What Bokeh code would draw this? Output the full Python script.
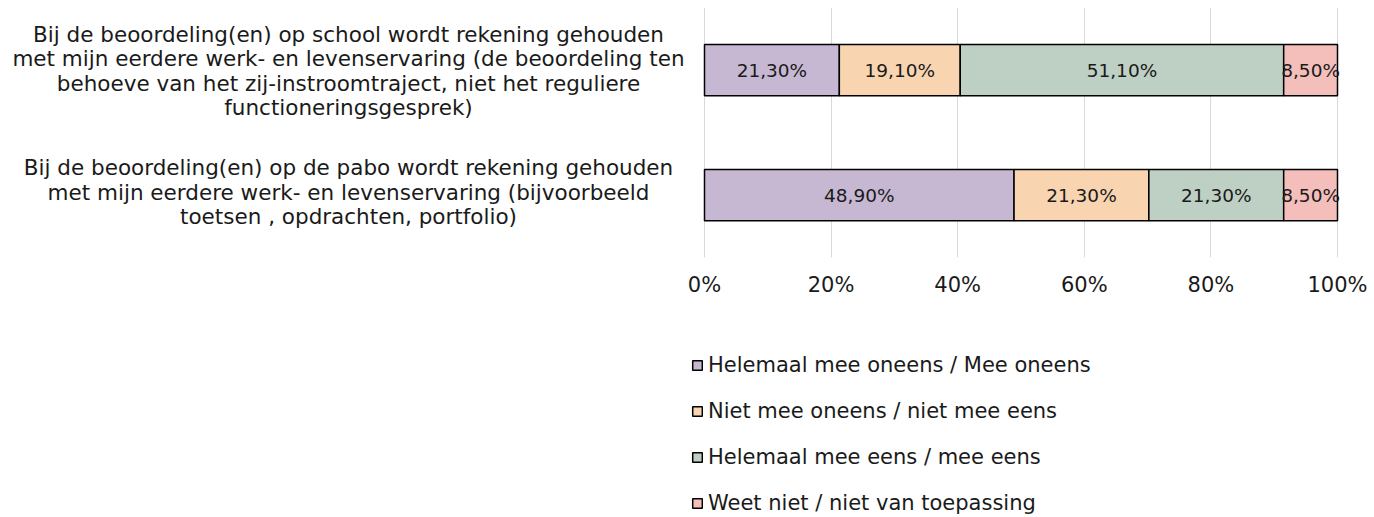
from bokeh.plotting import figure
from bokeh.layouts import column
from bokeh.models import ColumnDataSource, Range1d, Legend, LegendItem, FixedTicker, CustomJSTickFormatter
from bokeh.embed import file_html
from bokeh.resources import INLINE
from bokeh.core.properties import value

categories = [
    "Bij de beoordeling(en) op de pabo wordt rekening gehouden\nmet mijn eerdere werk- en levenservaring (bijvoorbeeld\ntoetsen , opdrachten, portfolio)",
    "Bij de beoordeling(en) op school wordt rekening gehouden\nmet mijn eerdere werk- en levenservaring (de beoordeling ten\nbehoeve van het zij-instroomtraject, niet het reguliere\nfunctioneringsgesprek)",
]
series_names = [
    "Helemaal mee oneens / Mee oneens",
    "Niet mee oneens / niet mee eens",
    "Helemaal mee eens / mee eens",
    "Weet niet / niet van toepassing",
]
oneens = [48.9, 21.3]
neutraal = [21.3, 19.1]
eens = [21.3, 51.1]
weet_niet = [8.5, 8.5]
tick_values = [0, 20, 40, 60, 80, 100]
colors = ["#C6B8D3", "#F8D4B1", "#BECFC4", "#F4BEBA"]

FONT = "DejaVu Sans"
W = 1374
H_MAIN, H_LEG = 300, 217
X0, X100 = 704, 1337          # pixel position of 0% and 100%
PX = (X100 - X0) / 100.0

series = [oneens, neutraal, eens, weet_niet]
keys = ["s0", "s1", "s2", "s3"]
ypos = list(range(len(categories)))
data = {"y": ypos}
for k, s in zip(keys, series):
    data[k] = s
source = ColumnDataSource(data)

p = figure(width=W, height=H_MAIN, output_backend="svg", toolbar_location=None,
           x_range=Range1d(-X0 / PX, 100 + (W - X100) / PX), y_range=Range1d(-0.5, 1.5),
           min_border_left=0, min_border_right=0, min_border_top=7, min_border_bottom=H_MAIN - 257)
p.outline_line_color = None
p.background_fill_color = "white"
p.border_fill_color = "white"

renderers = p.hbar_stack(keys, y="y", height=0.41, color=colors, source=source,
                         line_color="black", line_width=1.5)

# segment labels
for i, k in enumerate(keys):
    lefts = [sum(series[j][r] for j in range(i)) for r in range(len(categories))]
    centers = [l + series[i][r] / 2 for r, l in enumerate(lefts)]
    texts = [("%.2f%%" % v).replace(".", ",") for v in series[i]]
    src = ColumnDataSource(dict(x=centers, y=ypos, t=texts))
    p.text(x="x", y="y", text="t", source=src, text_align="center", text_baseline="middle",
           text_font=value(FONT), text_font_size="18.5px", text_color="#1a1a1a")

# category labels (left of the 0% line)
cat_src = ColumnDataSource(dict(x=[0] * len(categories), y=ypos, t=categories, dy=[-3, 1]))
p.text(x="x", y="y", text="t", source=cat_src, x_offset=-356, y_offset="dy",
       text_align="center", text_baseline="middle", text_font=value(FONT),
       text_font_size="21.5px", text_line_height=0.985, text_color="#1a1a1a")

# axes
p.yaxis.visible = False
p.xaxis.ticker = FixedTicker(ticks=tick_values)
p.xaxis.formatter = CustomJSTickFormatter(code="return tick + '%';")
p.xaxis.axis_line_color = None
p.xaxis.major_tick_line_color = None
p.xaxis.minor_tick_line_color = None
p.xaxis.major_tick_out = 0
p.xaxis.major_tick_in = 0
p.xaxis.major_label_standoff = 15
p.xaxis.major_label_text_font = FONT
p.xaxis.major_label_text_font_size = "21px"
p.xaxis.major_label_text_color = "#1a1a1a"
p.xgrid.ticker = FixedTicker(ticks=tick_values)
p.xgrid.grid_line_color = "#D9D9D9"
p.xgrid.grid_line_width = 1
p.ygrid.grid_line_color = None

# legend figure below (same series as hidden renderers, only the legend shows)
pl = figure(width=W, height=H_LEG, output_backend="svg", toolbar_location=None,
            x_range=Range1d(0, 100), y_range=Range1d(-0.5, 1.5),
            min_border_left=0, min_border_right=0, min_border_top=0, min_border_bottom=0)
pl.axis.visible = False
pl.grid.visible = False
pl.outline_line_color = None
pl.border_fill_color = "white"
leg_renderers = pl.hbar_stack(keys, y="y", height=0.41, color=colors, source=source,
                              line_color="black", line_width=1.5)
for r in leg_renderers:
    r.visible = False
legend = Legend(items=[LegendItem(label=n, renderers=[r]) for n, r in zip(series_names, leg_renderers)],
                location=(691, 2), orientation="vertical",
                glyph_width=12, glyph_height=12, label_height=18, spacing=22,
                padding=0, margin=0, label_standoff=5,
                label_text_font=FONT, label_text_font_size="21px", label_text_color="#1a1a1a",
                border_line_color=None, background_fill_alpha=0)
pl.add_layout(legend, "center")

layout = column(p, pl, spacing=0)
open("out.html", "w").write(file_html(layout, INLINE))
